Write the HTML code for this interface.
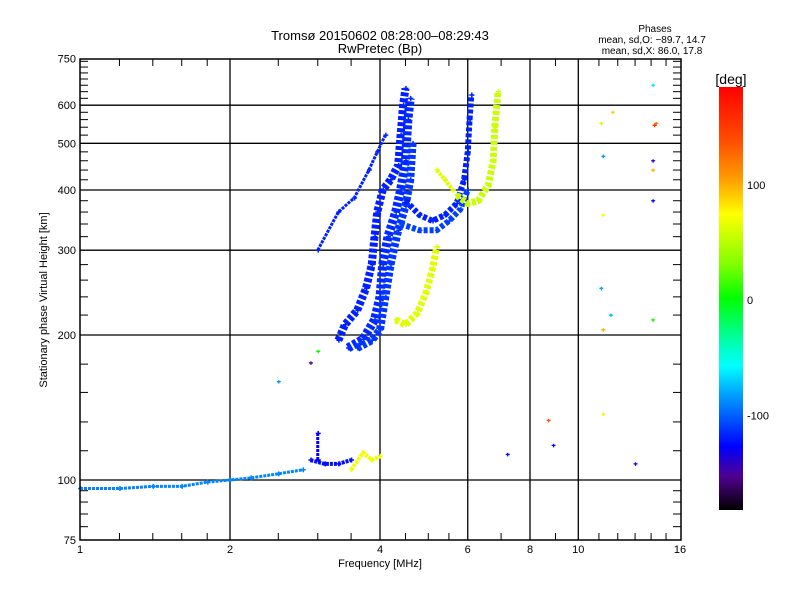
<!DOCTYPE html>
<html><head><meta charset="utf-8"><style>
body{margin:0;background:#fff;}
svg{display:block;font-family:"Liberation Sans",sans-serif;}
</style></head><body>
<svg id="chart" width="800" height="600" viewBox="0 0 800 600">
<defs>
<linearGradient id="cmap" x1="0" y1="0" x2="0" y2="1">
<stop offset="0" stop-color="#ff0000"/><stop offset="0.13" stop-color="#ff5000"/>
<stop offset="0.22" stop-color="#ffa000"/><stop offset="0.3" stop-color="#ffff00"/>
<stop offset="0.42" stop-color="#80ff00"/><stop offset="0.5" stop-color="#00ff00"/>
<stop offset="0.6" stop-color="#00ffaa"/><stop offset="0.66" stop-color="#00ffff"/>
<stop offset="0.72" stop-color="#00aaff"/><stop offset="0.8" stop-color="#0040ff"/>
<stop offset="0.85" stop-color="#0000ff"/><stop offset="0.92" stop-color="#500090"/>
<stop offset="1" stop-color="#000000"/>
</linearGradient>
</defs>
<g id="grid"></g>
<g id="marks"></g>
<rect x="80" y="59" width="601" height="481" fill="none" stroke="#000" stroke-width="1.5"/>
<g id="axes"></g>
<text x="380" y="40" text-anchor="middle" font-size="13">Tromsø 20150602 08:28:00–08:29:43</text>
<text x="380" y="53" text-anchor="middle" font-size="13">RwPretec (Bp)</text>
<text x="655" y="32" text-anchor="middle" font-size="10">Phases</text>
<text x="652" y="43" text-anchor="middle" font-size="10">mean, sd,O: −89.7, 14.7</text>
<text x="652" y="54" text-anchor="middle" font-size="10">mean, sd,X:  86.0, 17.8</text>
<text x="380" y="567" text-anchor="middle" font-size="11">Frequency [MHz]</text>
<text transform="translate(47,300) rotate(-90)" text-anchor="middle" font-size="11">Stationary phase Virtual Height [km]</text>
<rect x="719" y="87" width="24" height="423" fill="url(#cmap)"/>
<text x="731" y="84" text-anchor="middle" font-size="14">[deg]</text>
<g id="cbticks"></g>
</svg>
<script>
const xTicks=[1,2,4,6,8,10,16];
const xMinor=[1.2,1.4,1.6,1.8,2.5,3,3.5,4.5,5,5.5,7,9,11,12,13,14,15];
const yTicks=[75,100,200,300,400,500,600,750];
const yMinor=[80,85,90,95,115,132,152,174,220,240,260,280,320,340,360,380,420,440,460,480,520,540,560,580,620,640,660,680,700,720,740];
const cbTicks=[100,0,-100];
// traces: freq (MHz), height (km), phase (deg), width
const traceNames=["o-left","o-center","o-right","o-branch2","o-dip","o-sparse","x-lower","x-upper","x-mid","e-layer","e-blue","e-yellow","e-spike"];
const traceFreq=[
[3.3,3.4,3.6,3.75,3.85,3.9,3.95,4.05,4.2,4.35,4.4,4.45,4.5],
[3.45,3.7,3.9,4.0,4.05,4.15,4.3,4.4,4.5,4.55,4.6],
[3.6,3.85,4.0,4.1,4.2,4.35,4.5,4.6,4.65],
[4.5,4.8,5.1,5.4,5.7,5.9,6.0,6.05,6.1],
[4.4,4.8,5.2,5.5,5.8,6.0],
[3.0,3.3,3.55,3.8,3.95,4.1],
[4.3,4.5,4.75,4.95,5.1,5.2],
[5.7,6.0,6.3,6.6,6.75,6.8,6.9],
[5.2,5.4,5.6],
[1.0,1.2,1.4,1.6,1.8,2.0,2.2,2.5,2.8],
[2.9,3.1,3.3,3.5],
[3.5,3.7,3.85,4.0],
[3.0,3.0]];
const traceHeight=[
[195,210,225,250,280,320,360,400,420,450,520,600,650],
[188,196,215,240,280,320,360,400,460,560,620],
[188,195,205,240,280,330,370,420,500],
[380,355,345,355,375,420,480,560,630],
[340,330,330,345,365,400],
[300,360,385,440,480,520],
[215,210,222,245,275,305],
[390,375,380,410,460,540,640],
[440,420,400],
[96,96,97,97,99,100,101,103,105],
[110,108,108,110],
[105,114,110,112],
[110,125]];
const tracePhase=[-95,-92,-88,-95,-85,-95,95,88,95,-65,-100,100,-105];
const traceWidth=[8,9,8,6,6,3,7,7,4,3,4,4,3];
// isolated echoes
const ptFreq=[11.1,11.2,11.7,14.1,14.2,14.3,14.1,11.2,14.1,14.1,11.2,11.6,14.1,11.1,11.2,13.0,8.7,8.9,7.2,3.0,2.9,2.5];
const ptHeight=[550,470,580,660,545,550,460,355,440,380,205,220,215,250,137,108,133,118,113,185,175,160];
const ptPhase=[90,-60,120,-40,170,150,-130,100,130,-110,130,-50,30,-55,110,-110,160,-100,-100,30,-150,-60];

const X=f=>80+150*Math.log2(f);
const Y=h=>480-145*Math.log2(h/100);
const NS="http://www.w3.org/2000/svg";
function mk(t,a,p){const e=document.createElementNS(NS,t);for(const k in a)e.setAttribute(k,a[k]);p.appendChild(e);return e;}
function color(v){
 const stops=[[185,[255,0,0]],[160,[255,80,0]],[135,[255,160,0]],[105,[255,255,0]],[65,[128,255,0]],[30,[0,255,0]],[-10,[0,255,170]],[-35,[0,255,255]],[-55,[0,170,255]],[-85,[0,64,255]],[-105,[0,0,255]],[-150,[80,0,144]],[-182,[0,0,0]]];
 for(let i=0;i<stops.length-1;i++){const [a,ca]=stops[i],[b,cb]=stops[i+1];
  if(v<=a&&v>=b){const t=(a-v)/(a-b);return `rgb(${ca.map((c,j)=>Math.round(c+(cb[j]-c)*t)).join(',')})`;}}
 return v>0?'rgb(255,0,0)':'rgb(0,0,0)';}
const grid=document.getElementById('grid'),axes=document.getElementById('axes'),marks=document.getElementById('marks');
xTicks.forEach(f=>{const x=X(f);
 if(f>1&&f<16){const l=mk('line',{x1:x,x2:x,y1:59,y2:540,stroke:'#000','stroke-width':1.3},grid);
 
 }
 const t=mk('text',{x:x,y:553,'text-anchor':'middle','font-size':11},axes);t.textContent=f;
 
 });
xMinor.forEach(f=>{const x=X(f);mk('line',{x1:x,x2:x,y1:540,y2:533,stroke:'#000'},axes);mk('line',{x1:x,x2:x,y1:59,y2:66,stroke:'#000'},axes);});
yTicks.forEach(h=>{const y=Y(h);
 if(h>75&&h<750){const l=mk('line',{x1:80,x2:681,y1:y,y2:y,stroke:'#000','stroke-width':1.3},grid);
 
 }
 const t=mk('text',{x:76,y:y+4,'text-anchor':'end','font-size':11},axes);t.textContent=h;
 
 });
yMinor.forEach(h=>{const y=Y(h);mk('line',{x1:80,x2:88,y1:y,y2:y,stroke:'#000'},axes);mk('line',{x1:673,x2:681,y1:y,y2:y,stroke:'#000'},axes);});
const cb=document.getElementById('cbticks');
cbTicks.forEach(v=>{const y=87+(185-v)/367*423;const t=mk('text',{x:747,y:y+4,'font-size':11},cb);t.textContent=v;
 
 });
traceFreq.forEach((fs,i)=>{const pts=fs.map((f,j)=>X(f)+','+Y(traceHeight[i][j])).join(' ');
 const c=color(tracePhase[i]);
 const p=mk('polyline',{points:pts,fill:'none',stroke:c,'stroke-width':traceWidth[i],'stroke-linejoin':'round','stroke-dasharray':traceWidth[i]>5?'4 2':'3 1'},marks);
 
 
 fs.forEach((f,j)=>{const x=X(f),y=Y(traceHeight[i][j]);
  mk('path',{d:`M${x-2},${y}h5M${x+0.5},${y-2.5}v5`,stroke:c,'stroke-width':1.5},marks);});});
ptFreq.forEach((f,i)=>{const x=X(f),y=Y(ptHeight[i]);
 const p=mk('path',{d:`M${x-1.5},${y}h4M${x+0.5},${y-1.5}v3.5`,stroke:color(ptPhase[i]),'stroke-width':1.3},marks);
 
 });
</script>
</body></html>
